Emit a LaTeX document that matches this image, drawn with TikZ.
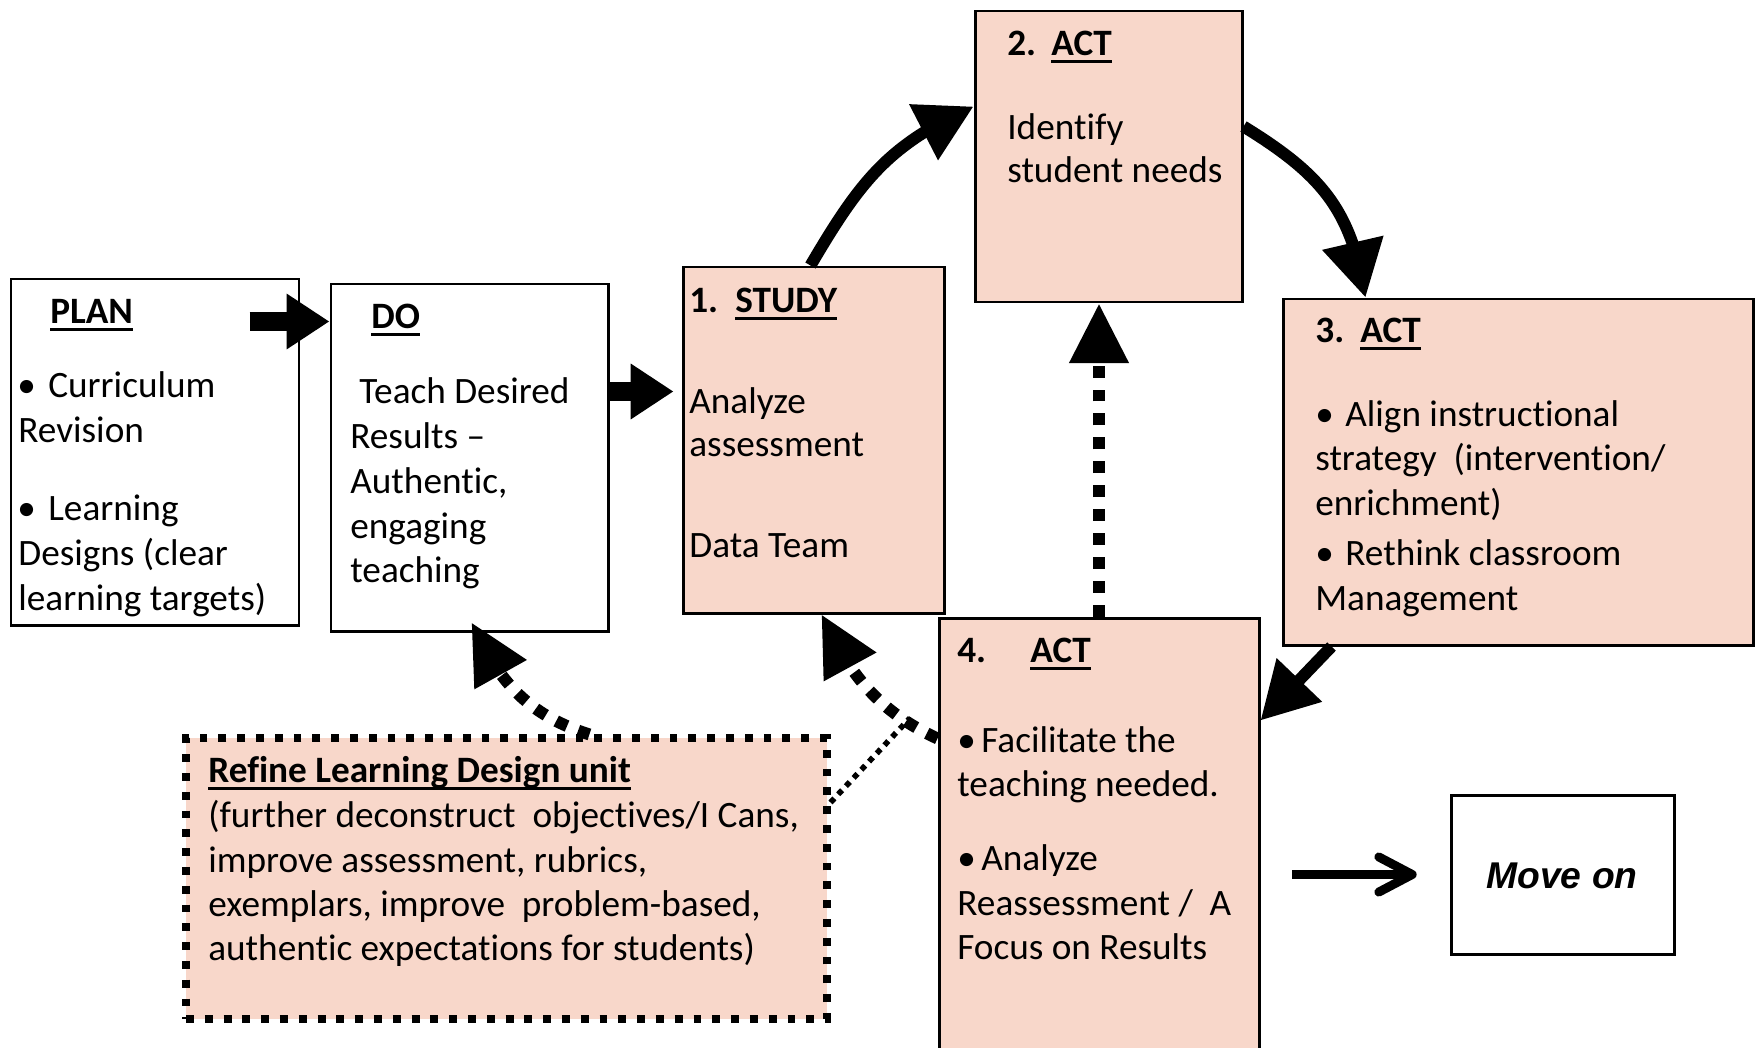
\documentclass[tikz,border=0pt]{standalone}
\usepackage{fontspec}
\setmainfont{Carlito}[Ligatures=NoCommon]
\newfontfamily\movefont{Liberation Sans}
\usetikzlibrary{arrows.meta, bending, fit, positioning}
\definecolor{peach}{RGB}{248,215,202}
\newcommand\hdr[1]{\setbox0\hbox{\textbf{#1}}\rlap{\rule[-4.3pt]{\wd0}{1.5pt}}\box0}
\newcommand\bul[1]{\makebox[#1][l]{\textbullet}}

\tikzset{
    box/.style={draw, line width=1.7pt, inner sep=0pt},
    actbox/.style={box, fill=peach},
    txt/.style={inner sep=0pt, anchor=base west, font=\fontsize{21.2pt}{25.5pt}\selectfont},
    block/.style={line width=10.5pt, -{Triangle[length=24.4pt,width=30pt]}},
    loopline/.style={line width=6.8pt, -{Triangle[length=32pt,width=34pt]}},
    dotline/.style={line width=6.8pt, dash pattern=on 6.8pt off 6.8pt, -{Triangle[length=34pt,width=32.3pt]}},
    thindots/.style={line width=3.2pt, dash pattern=on 3.2pt off 3.2pt},
}

\begin{document}
\begin{tikzpicture}[x=0.02cm, y=-0.02cm]
    \useasboundingbox (0,0) rectangle (1755,1048);
    \clip (0,0) rectangle (1755,1048);
    % boxes
    \node[box, fit={(11,279) (299,625)}] (plan) {};
    \node[box, fit={(331,284) (608,631)}] (do) {};
    \node[actbox, fit={(683,267) (944,613)}] (study) {};
    \node[actbox, fit={(975,11) (1242,302)}] (act2) {};
    \node[actbox, fit={(1283,299) (1753,645)}] (act3) {};
    \node[actbox, fit={(939,618) (1259,1060)}] (act4) {};
    \node[actbox, line width=4pt, dash pattern=on 4.5pt off 6.2pt,
        fit={(186,738) (827,1019)}] (refine) {};
    \node[box, fit={(1451,795) (1674,954)}] (moveon) {};
    \node[anchor=base, inner sep=0pt, font=\movefont\bfseries\itshape\fontsize{21.2pt}{25pt}\selectfont]
        (moveon-txt) at (1562,888) {Move on};

    % texts
    \foreach \x/\y/\t [count=\i] in {50/323/{\hdr{PLAN}}, 17/397/{\bul{0.62cm}Curriculum},
        18/442/{Revision}, 17/520/{\bul{0.62cm}Learning}, 18/565/{Designs (clear},
        18/610/{learning targets)}} {
        \node[txt] (plan-\i) at (\x,\y) {\t};
    }
    \foreach \x/\y/\t [count=\i] in {371/328/{\hdr{DO}}, 359/403/{Teach Desired},
        350/448/{Results –}, 350/493/{Authentic,}, 350/538/{engaging}, 350/582/{teaching}} {
        \node[txt] (do-\i) at (\x,\y) {\t};
    }
    \foreach \x/\y/\t [count=\i] in {689/312/{\textbf{1.}}, 735/312/{\hdr{STUDY}},
        689/413/{Analyze}, 689/456/{assessment}, 689/557/{Data Team}} {
        \node[txt] (study-\i) at (\x,\y) {\t};
    }
    \foreach \x/\y/\t [count=\i] in {1007/55/{\textbf{2.}}, 1051/55/{\hdr{ACT}},
        1007/139/{Identify}, 1007/182/{student needs}} {
        \node[txt] (act2-\i) at (\x,\y) {\t};
    }
    \foreach \x/\y/\t [count=\i] in {1315/342/{\textbf{3.}}, 1360/342/{\hdr{ACT}},
        1315/426/{\bul{0.6cm}Align instructional}, 1315/470/{strategy\ \ (intervention/},
        1315/515/{enrichment)}, 1315/565/{\bul{0.6cm}Rethink classroom}, 1315/610/{Management}} {
        \node[txt] (act3-\i) at (\x,\y) {\t};
    }
    \foreach \x/\y/\t [count=\i] in {957/662/{\textbf{4.}}, 1030/662/{\hdr{ACT}},
        957/752/{\bul{0.48cm}Facilitate the}, 957/796/{teaching needed.},
        957/870/{\bul{0.48cm}Analyze}, 957/915/{Reassessment /\ \ A}, 957/959/{Focus on Results}} {
        \node[txt] (act4-\i) at (\x,\y) {\t};
    }
    \foreach \x/\y/\t [count=\i] in {208/782/{\hdr{Refine Learning Design unit}},
        208/827/{(further deconstruct\ \ objectives/I Cans,}, 208/872/{improve assessment, rubrics,},
        208/916/{exemplars, improve\ \ problem-based,}, 208/960/{authentic expectations for students)}} {
        \node[txt] (refine-\i) at (\x,\y) {\t};
    }

    % block arrows
    \coordinate[below=0.78cm of do.north west] (do-in);
    \coordinate[below=2.52cm of study.north west] (study-in);
    \draw[block] ([xshift=-1.02cm]plan.east |- do-in) -- (do-in);
    \draw[block, shorten >=4.5pt] (do.east |- study-in) -- (study-in);

    % the cycle
    \draw[loopline] ([xshift=2.58cm]study.north west) .. controls +(50,-85) and +(-85,38) .. ([yshift=-1.94cm]act2.north west);
    \draw[loopline] ([yshift=-2.34cm]act2.north east) .. controls +(78,48) and +(-14,-88) .. ([xshift=1.68cm]act3.north west);
    \draw[loopline] ([xshift=1cm]act3.south west) -- ([yshift=-2.08cm]act4.north east);

    % dotted arrows
    \draw[dotline] (act4.north) -- (act4.north |- act2.south);
    \draw[dotline] ([yshift=-2.44cm]act4.north west) .. controls +(-59,-27) and +(27,59) .. ([xshift=2.8cm]study.south west);
    \draw[dotline] ([xshift=8.14cm]refine.north west) .. controls +(-62,-20) and +(27,59) .. ([xshift=2.84cm,yshift=0.2cm]do.south west);
    \coordinate (join) at (910,718);
    \draw[thindots] ([yshift=-1.36cm]refine.north east) -- (join);

    % move on
    \draw[line width=5.1pt, -{Straight Barb[length=19pt,width=20pt,round]},
        shorten <=18pt, shorten >=18.7pt] (act4.east |- moveon.west) -- (moveon.west);
\end{tikzpicture}
\end{document}
